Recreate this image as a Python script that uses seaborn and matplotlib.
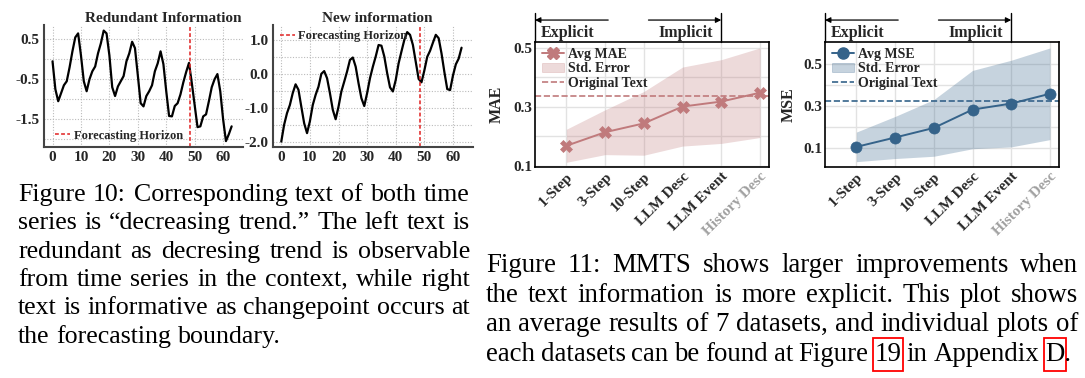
import numpy as np
import pandas as pd
import matplotlib
matplotlib.use("Agg")
import matplotlib.pyplot as plt
import seaborn as sns
from matplotlib.lines import Line2D
from matplotlib.patches import Patch, Rectangle

# === Data ===
redundant = [-0.05, -0.75, -1.05, -0.85, -0.65, -0.55, -0.2, 0.2, 0.55, 0.65,
             0.1, -0.55, -0.8, -0.5, -0.3, -0.18, 0.15, 0.4, 0.72, 0.65,
             0.1, -0.7, -0.92, -0.68, -0.55, -0.42, -0.05, 0.15, 0.44, 0.28,
             -0.4, -1.1, -1.18, -0.92, -0.8, -0.65, -0.3, -0.1, 0.2, -0.12,
             -0.8, -1.42, -1.43, -1.17, -1.1, -0.88, -0.58, -0.32, -0.09, -0.6,
             -1.15, -1.7, -1.68, -1.43, -1.38, -1.05, -0.7, -0.5, -0.37, -0.8,
             -1.5, -2.05, -1.88, -1.68]
new_info = [-2.0, -1.5, -1.16, -0.92, -0.57, -0.31, -0.47, -0.97, -1.46, -1.75,
            -1.4, -0.92, -0.62, -0.38, 0.0, 0.08, -0.13, -0.57, -1.06, -1.34,
            -0.97, -0.52, -0.23, 0.07, 0.41, 0.48, 0.21, -0.28, -0.72, -0.95,
            -0.57, -0.13, 0.21, 0.51, 0.85, 0.83, 0.51, 0.02, -0.4, -0.52,
            -0.18, 0.31, 0.66, 1.0, 1.23, 1.15, 0.85, 0.35, -0.15, -0.25,
            0.1, 0.5, 0.68, 0.92, 1.15, 1.05, 0.6, 0.05, -0.45, -0.48,
            -0.05, 0.28, 0.45, 0.77]
horizon = 48.5

steps = ["1-Step", "3-Step", "10-Step", "LLM Desc", "LLM Event", "History Desc"]
mae_avg = [0.167, 0.213, 0.243, 0.300, 0.317, 0.347]
mae_se = [0.056, 0.076, 0.108, 0.134, 0.142, 0.152]
mae_orig = 0.337
mse_avg = [0.103, 0.148, 0.194, 0.282, 0.311, 0.358]
mse_se = [0.071, 0.101, 0.136, 0.188, 0.208, 0.220]
mse_orig = 0.325

caption10 = ["Figure 10: Corresponding text of both time",
             "series is \u201cdecreasing trend.\u201d The left text is",
             "redundant as decresing trend is observable",
             "from time series in the context, while right",
             "text is informative as changepoint occurs at",
             "the forecasting boundary."]
caption11 = ["Figure 11: MMTS shows larger improvements when",
             "the text information is more explicit. This plot shows",
             "an average results of 7 datasets, and individual plots of",
             "each datasets can be found at Figure 19 in Appendix D."]

# === Style ===
sns.set_theme(style="white")
plt.rcParams["font.family"] = ["Liberation Serif", "DejaVu Serif"]
plt.rcParams["font.weight"] = "bold"
plt.rcParams["axes.labelweight"] = "bold"
plt.rcParams["axes.unicode_minus"] = False

W, H = 1085, 378
fig = plt.figure(figsize=(W / 100, H / 100), dpi=100)


def px_axes(l, t, r, b):
    return fig.add_axes([l / W, 1 - b / H, (r - l) / W, (b - t) / H])


# === Time series panels ===
def series_panel(ax, values, title, title_x, major, minor, ylim, legend_loc, legend_anchor):
    df = pd.DataFrame({"t": np.arange(len(values)), "v": values})
    sns.lineplot(data=df, x="t", y="v", ax=ax, color="black", lw=1.6)
    ax.axvline(horizon, color="#e02020", ls=(0, (2.5, 1.5)), lw=1.1, label="Forecasting Horizon")
    ax.set_xlim(-3, 67)
    ax.set_ylim(*ylim)
    ax.set_xticks(range(0, 61, 10))
    ax.set_yticks(major)
    ax.set_yticks(minor, minor=True)
    ax.set_yticklabels([f"{v:.1f}" for v in major])
    ax.grid(True, which="both", color="#bbbbbb", ls=(0, (1, 1.5)), lw=0.8)
    ax.set_axisbelow(True)
    for s in ["top", "right"]:
        ax.spines[s].set_visible(False)
    for s in ["left", "bottom"]:
        ax.spines[s].set_color("#444444")
        ax.spines[s].set_linewidth(1.5)
    ax.tick_params(axis="both", labelsize=11, length=0, pad=3)
    ax.tick_params(axis="y", which="minor", length=0)
    ax.set_xlabel("")
    ax.set_ylabel("")
    ax.set_title(title, fontsize=11, fontweight="bold", x=title_x, pad=2)
    ax.legend(loc=legend_loc, bbox_to_anchor=legend_anchor, frameon=False, fontsize=9,
              handlelength=1.2, handletextpad=0.3, borderaxespad=0)


ax1 = px_axes(44, 25, 243, 146.7)
series_panel(ax1, redundant, "Redundant Information", 0.6,
             [0.5, -0.5, -1.5], [0.0, -1.0, -2.0], (-2.19, 0.86),
             "lower left", (0.03, 0.0))
ax2 = px_axes(272.7, 25, 473, 146.7)
series_panel(ax2, new_info, "New information", 0.52,
             [1.0, 0.0, -1.0, -2.0], [0.5, -0.5, -1.5], (-2.15, 1.44),
             "upper left", (0.01, 1.0))


# === Error panels ===
def error_panel(ax, avg, se, orig, color, marker, ms, name, ylim, ylabel, label_x):
    pos = np.arange(len(steps))
    avg = np.array(avg)
    se = np.array(se)
    ax.fill_between(pos, avg - se, avg + se, color=color, alpha=0.28, lw=0)
    sns.lineplot(x=pos, y=avg, ax=ax, color=color, lw=1.4, marker=marker,
                 markersize=ms, markeredgecolor=color, markeredgewidth=0.5)
    ax.axhline(orig, color=color, ls="--", lw=1.2)
    ax.set_xlim(-0.81, 5.24)
    ax.set_ylim(*ylim)
    ax.set_xticks(pos)
    ax.set_xticklabels(steps, rotation=45, ha="right", rotation_mode="anchor", fontsize=10)
    ax.get_xticklabels()[-1].set_color("#a0a0a0")
    ax.set_yticks([0.1, 0.3, 0.5])
    ax.set_yticks([0.2, 0.4], minor=True)
    ax.grid(True, which="both", color="#e2e2e2", lw=1.0)
    ax.set_axisbelow(True)
    for s in ax.spines.values():
        s.set_color("black")
        s.set_linewidth(1.2)
    ax.tick_params(axis="both", which="both", length=0, labelsize=11, pad=2)
    ax.set_ylabel(ylabel, fontsize=11.5, fontweight="bold")
    ax.yaxis.set_label_coords(label_x, 0.5)

    handles = [Line2D([], [], color=color, lw=1.4, marker=marker, markersize=ms),
               Patch(facecolor=color, alpha=0.28, edgecolor=color, lw=0.6),
               Line2D([], [], color=color, lw=1.2, ls="--")]
    ax.legend(handles, [f"Avg {name}", "Std. Error", "Original Text"], loc="upper left",
              bbox_to_anchor=(0.0, 1.01), frameon=False, fontsize=10,
              handlelength=1.6, handletextpad=0.3, labelspacing=0.1, borderaxespad=0.1)

    # explicit / implicit brackets above the panel
    tr = ax.get_xaxis_transform()
    x_left = ax.get_xlim()[0]
    ax.plot([x_left, x_left], [1.0, 1.232], transform=tr, color="black", lw=1.0, clip_on=False)
    ax.plot([4, 4], [1.0, 1.232], transform=tr, color="black", lw=1.0, clip_on=False)
    arrow = dict(arrowstyle="-|>", color="black", lw=0.9, mutation_scale=8, shrinkA=0, shrinkB=0)
    ax.annotate("", xy=(x_left, 1.178), xytext=(1.08, 1.178), xycoords=tr, textcoords=tr, arrowprops=arrow)
    ax.annotate("", xy=(4, 1.178), xytext=(2.12, 1.178), xycoords=tr, textcoords=tr, arrowprops=arrow)
    ax.text(-0.65, 1.045, "Explicit", transform=tr, fontsize=11.5, fontweight="bold", va="baseline")
    ax.text(2.37, 1.045, "Implicit", transform=tr, fontsize=11.5, fontweight="bold", va="baseline")


ax3 = px_axes(535, 42.3, 769.3, 167.3)
error_panel(ax3, mae_avg, mae_se, mae_orig, "#c07a7c", "X", 8, "MAE", (0.094, 0.518), "MAE", -0.13)
ax4 = px_axes(825, 42.3, 1059.3, 167.3)
error_panel(ax4, mse_avg, mse_se, mse_orig, "#35638a", "o", 8, "MSE", (0.005, 0.605), "MSE", -0.12)


# === Captions (justified, as in the paper) ===
renderer = fig.canvas.get_renderer()


def text_width(s, size):
    t = fig.text(0, 0, s, fontsize=size, fontweight="normal")
    w = t.get_window_extent(renderer).width
    t.remove()
    return w


def paragraph(lines, x0, x1, base0, step, last_end=None, boxed=()):
    # font size: the tightest line gets ordinary word spacing
    base = 18
    sp = text_width("a a", base) - text_width("aa", base)
    nat = [sum(text_width(w, base) for w in ln.split(" ")) + sp * (len(ln.split(" ")) - 1)
           for ln in lines[:-1]]
    size = base * min((x1 - x0) / n for n in nat) * 0.995

    space = text_width("a a", size) - text_width("aa", size)
    em = size * 100 / 72
    for i, line in enumerate(lines):
        words = line.split(" ")
        ws = [text_width(w, size) for w in words]
        last = i == len(lines) - 1
        if last and last_end is None:
            gap = space
        else:
            end = last_end if last else x1
            gap = max(space * 0.8, (end - x0 - sum(ws)) / (len(words) - 1))
        x = x0
        yb = base0 + i * step
        for w, wd in zip(words, ws):
            fig.text(x / W, 1 - yb / H, w, fontsize=size, fontweight="normal",
                     va="baseline", ha="left", color="black")
            core = w.rstrip(".")
            if core in boxed:
                cw = text_width(core, size)
                fig.patches.append(Rectangle(((x - 1.5) / W, 1 - (yb + 0.36 * em) / H),
                                             (cw + 3) / W, 1.23 * em / H,
                                             transform=fig.transFigure, fill=False,
                                             ec="red", lw=1.3))
            x += wd + gap


paragraph(caption10, 18, 470, 201, 28.35)
paragraph(caption11, 486, 1078, 272, 29.7, last_end=1071, boxed=("19", "D"))

fig.savefig("out.png", dpi=100)
